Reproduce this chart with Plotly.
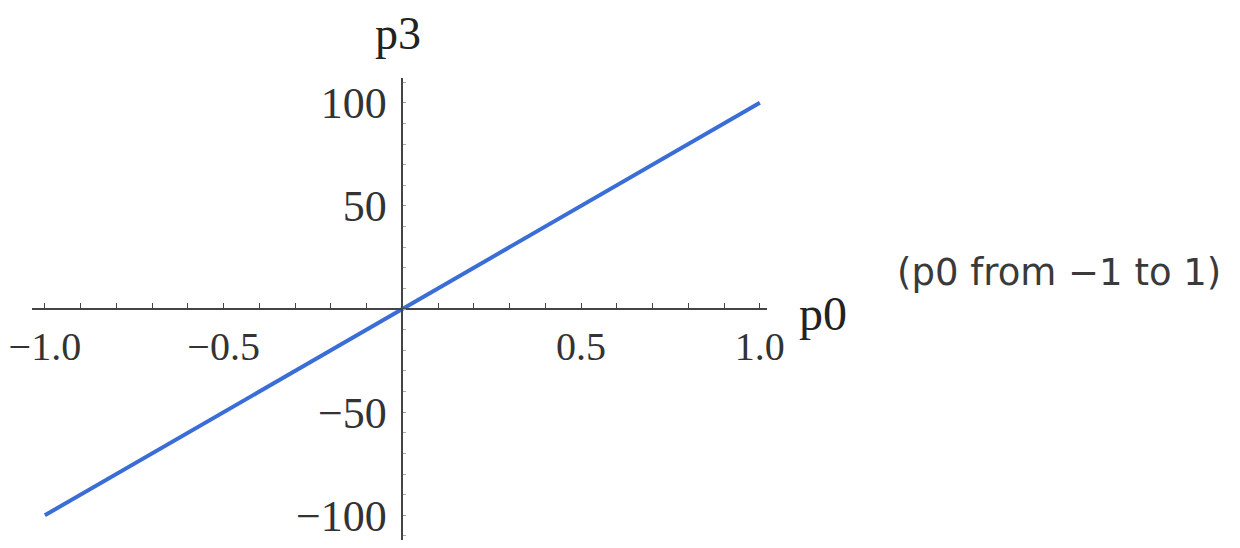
import plotly.graph_objects as go

# data
p0_values = [-1.0, -0.5, 0.0, 0.5, 1.0]
p3_values = [-100.0, -50.0, 0.0, 50.0, 100.0]

x_tick_vals = [-1.0, -0.5, 0.5, 1.0]
x_tick_text = ["\u22121.0", "\u22120.5", "0.5", "1.0"]
y_tick_vals = [-100, -50, 50, 100]
y_tick_text = ["\u2212100", "\u221250", "50", "100"]

x_range = [-1.036, 1.02]
y_range = [-112, 112]

serif = "Liberation Serif"
axis_col = "#444444"

fig = go.Figure()
fig.add_trace(go.Scatter(
    x=p0_values, y=p3_values, mode="lines",
    line=dict(color="#3a6ed6", width=4),
    showlegend=False, hoverinfo="skip",
))

x_pos = (0 - y_range[0]) / (y_range[1] - y_range[0])
y_pos = (0 - x_range[0]) / (x_range[1] - x_range[0])

OFF = 8  # page body margin
W, H = 1240, 548
L, R, T, B = 32 - OFF, W - 767 + OFF, 78 - OFF, H - 540 + OFF
plot_w = W - L - R

fig.update_layout(
    width=W, height=H,
    margin=dict(l=L, r=R, t=T, b=B, autoexpand=False),
    paper_bgcolor="white", plot_bgcolor="white",
    xaxis=dict(
        range=x_range, anchor="free", position=x_pos, automargin=False,
        showgrid=False, zeroline=False,
        showline=True, linecolor=axis_col, linewidth=1.5,
        tickvals=x_tick_vals, ticktext=x_tick_text,
        ticks="inside", ticklen=5, tickwidth=1.2, tickcolor=axis_col,
        minor=dict(dtick=0.1, tick0=0, ticks="inside", ticklen=5, tickwidth=1.2,
                   tickcolor=axis_col, showgrid=False),
        tickfont=dict(family=serif, size=40, color="#333333"),
        ticklabelstandoff=2, ticklabeloverflow="allow",
    ),
    yaxis=dict(
        range=y_range, anchor="free", position=y_pos, automargin=False,
        showgrid=False, zeroline=False,
        showline=True, linecolor=axis_col, linewidth=1.5,
        tickvals=y_tick_vals, ticktext=y_tick_text,
        ticks="inside", ticklen=3, tickwidth=1, tickcolor="#999999",
        minor=dict(dtick=10, tick0=0, ticks="inside", ticklen=3, tickwidth=1,
                   tickcolor="#aaaaaa", showgrid=False),
        tickfont=dict(family=serif, size=44, color="#333333"),
        ticklabelstandoff=6, ticklabeloverflow="allow",
    ),
    annotations=[
        dict(text="p3", x=0, xref="x", xanchor="center", xshift=-4,
             y=1, yref="paper", yanchor="bottom", yshift=17, showarrow=False,
             font=dict(family=serif, size=46, color="#222222")),
        dict(text="p0", x=1, xref="paper", xanchor="left", xshift=30,
             y=0, yref="y", yanchor="middle", yshift=-4, showarrow=False,
             font=dict(family=serif, size=48, color="#222222")),
        dict(text="(p0 from \u22121 to 1)", x=(895 - OFF - L) / plot_w, xref="paper",
             y=0, yref="y", xanchor="left", yanchor="middle", yshift=37,
             showarrow=False,
             font=dict(family="DejaVu Sans", size=37, color="#3a3a3a")),
    ],
)

fig.write_html("out.html")
